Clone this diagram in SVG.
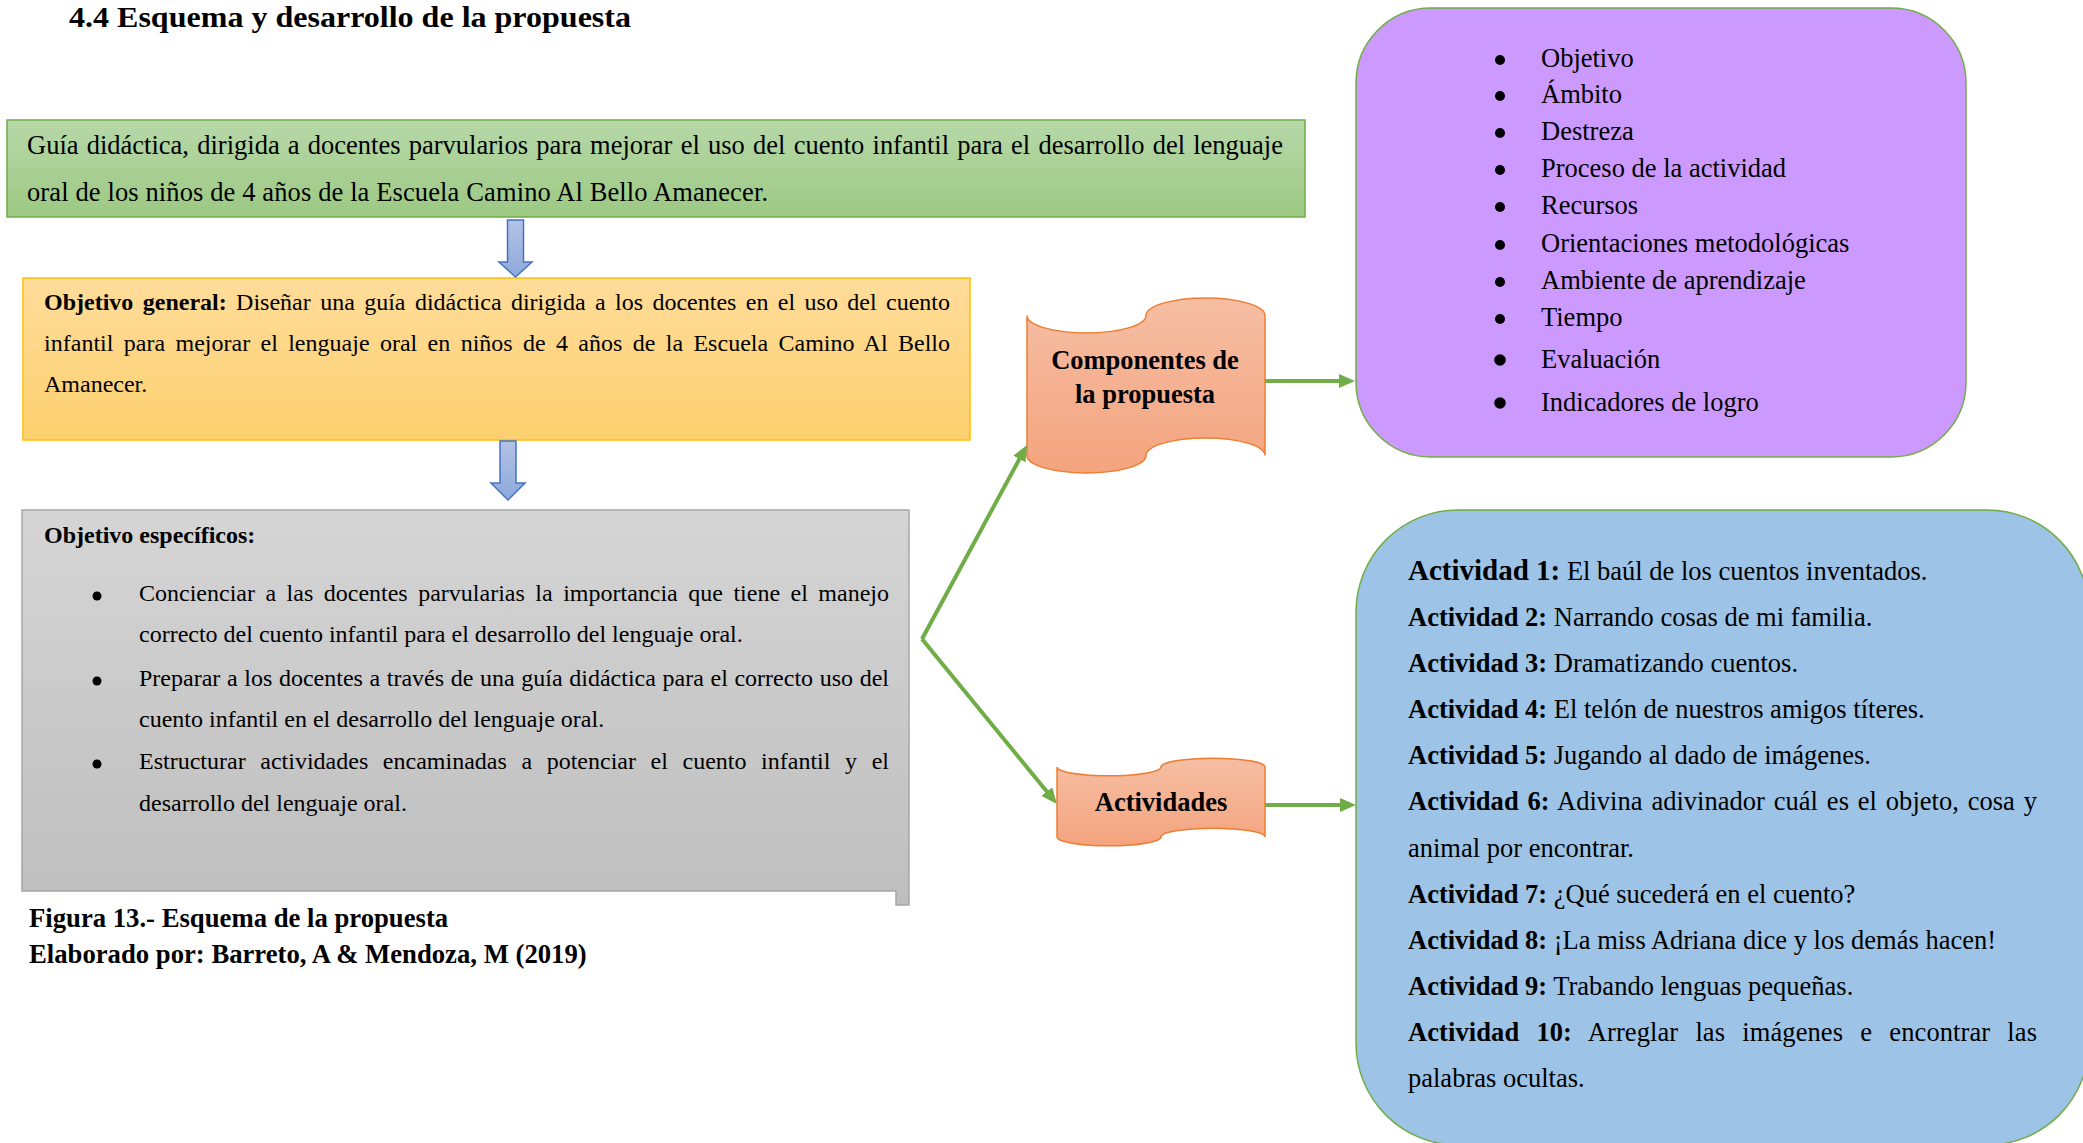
<svg xmlns="http://www.w3.org/2000/svg" width="2083" height="1143" viewBox="0 0 2083 1143">
<defs>
  <linearGradient id="gGreen" x1="0" y1="0" x2="0" y2="1"><stop offset="0" stop-color="#b7d8a9"/><stop offset="1" stop-color="#9cc882"/></linearGradient>
  <linearGradient id="gOrange" x1="0" y1="0" x2="0" y2="1"><stop offset="0" stop-color="#ffdc9a"/><stop offset="1" stop-color="#fdd06e"/></linearGradient>
  <linearGradient id="gGray" x1="0" y1="0" x2="0" y2="1"><stop offset="0" stop-color="#d5d5d5"/><stop offset="1" stop-color="#bebebe"/></linearGradient>
  <linearGradient id="gSalmon" x1="0" y1="0" x2="0" y2="1"><stop offset="0" stop-color="#f6bea4"/><stop offset="1" stop-color="#f4a47e"/></linearGradient>
  <linearGradient id="gArrow" x1="0" y1="0" x2="0" y2="1"><stop offset="0" stop-color="#b3c2e6"/><stop offset="1" stop-color="#8ea9db"/></linearGradient>
  <marker id="ah" markerUnits="userSpaceOnUse" markerWidth="16" markerHeight="14" viewBox="0 0 16 14" refX="8" refY="7" orient="auto">
    <path d="M0,0 L16,7 L0,14 Z" fill="#70ad47"/>
  </marker>
</defs>
<style>
  .t { font-family: "Liberation Serif", "Times New Roman", serif; fill: #000; }
  .b { font-weight: bold; }
  .s24 { font-size: 24px; }
  .s26 { font-size: 26.5px; }
  .bul { fill: #000; }
  .link { stroke: #70ad47; stroke-width: 4; fill: none; marker-end: url(#ah); }
  .blockarrow { fill: url(#gArrow); stroke: #4472c4; stroke-width: 1.5; }
  .scroll { fill: url(#gSalmon); stroke: #ed7d31; stroke-width: 1.5; }
</style>

<text id="title" class="t b" x="69" y="27" font-size="30" textLength="562" lengthAdjust="spacingAndGlyphs">4.4 Esquema y desarrollo de la propuesta</text>

<g id="guia">
  <rect x="7" y="120" width="1298" height="97" fill="url(#gGreen)" stroke="#70ad47" stroke-width="1.5"/>
  <text class="t s26" x="27" y="154" word-spacing="1.6" textLength="1256">Guía didáctica, dirigida a docentes parvularios para mejorar el uso del cuento infantil para el desarrollo del lenguaje</text>
  <text class="t s26" x="27" y="201" textLength="741">oral de los niños de 4 años de la Escuela Camino Al Bello Amanecer.</text>
</g>

<g id="objetivo-general">
  <rect x="23" y="278" width="947" height="162" fill="url(#gOrange)" stroke="#ffc000" stroke-width="1.5"/>
  <text class="t s24" x="44" y="310" word-spacing="3.4" textLength="906"><tspan class="b">Objetivo general:</tspan> Diseñar una guía didáctica dirigida a los docentes en el uso del cuento</text>
  <text class="t s24" x="44" y="351" word-spacing="4.3" textLength="906">infantil para mejorar el lenguaje oral en niños de 4 años de la Escuela Camino Al Bello</text>
  <text class="t s24" x="44" y="392">Amanecer.</text>
</g>

<g id="objetivos-especificos">
  <path d="M22,510 H909 V905 H896 V891 H22 Z" fill="url(#gGray)" stroke="#a6a6a6" stroke-width="1.5"/>
  <text class="t s24 b" x="44" y="543">Objetivo específicos:</text>
  <circle class="bul" cx="97" cy="596" r="4.5"/>
  <text class="t s24" x="139" y="601" word-spacing="4.5" textLength="750">Concienciar a las docentes parvularias la importancia que tiene el manejo</text>
  <text class="t s24" x="139" y="642">correcto del cuento infantil para el desarrollo del lenguaje oral.</text>
  <circle class="bul" cx="97" cy="681" r="4.5"/>
  <text class="t s24" x="139" y="686" word-spacing="0.6" textLength="750">Preparar a los docentes a través de una guía didáctica para el correcto uso del</text>
  <text class="t s24" x="139" y="727">cuento infantil en el desarrollo del lenguaje oral.</text>
  <circle class="bul" cx="97" cy="764" r="4.5"/>
  <text class="t s24" x="139" y="769" word-spacing="8.6" textLength="750">Estructurar actividades encaminadas a potenciar el cuento infantil y el</text>
  <text class="t s24" x="139" y="811">desarrollo del lenguaje oral.</text>
</g>

<text class="t b" x="29" y="927" font-size="26.7">Figura 13.- Esquema de la propuesta</text>
<text class="t b" x="29" y="963" font-size="26.7">Elaborado por: Barreto, A &amp; Mendoza, M (2019)</text>

<g id="componentes">
  <path class="scroll" d="M1027,315.5 A59.5,17.5 0 0 0 1146,315.5 A59.5,17.5 0 0 1 1265,315.5 L1265,455.5 A59.5,17.5 0 0 0 1146,455.5 A59.5,17.5 0 0 1 1027,455.5 Z"/>
  <text class="t s26 b" x="1145" y="369" text-anchor="middle">Componentes de</text>
  <text class="t s26 b" x="1145" y="403" text-anchor="middle">la propuesta</text>
</g>

<g id="actividades">
  <path class="scroll" d="M1057,767 A52,8.8 0 0 0 1161,767 A52,8.8 0 0 1 1265,767 L1265,837 A52,8.8 0 0 0 1161,837 A52,8.8 0 0 1 1057,837 Z"/>
  <text class="t s26 b" x="1161" y="811" text-anchor="middle">Actividades</text>
</g>

<g id="lista-componentes">
  <rect x="1356" y="8" width="610" height="449" rx="75" ry="75" fill="#cc99ff" stroke="#70ad47" stroke-width="1.5"/>
  <g class="bul">
    <circle cx="1500" cy="60" r="5"/>
    <circle cx="1500" cy="96" r="5"/>
    <circle cx="1500" cy="133" r="5"/>
    <circle cx="1500" cy="170" r="5"/>
    <circle cx="1500" cy="207" r="5"/>
    <circle cx="1500" cy="245" r="5"/>
    <circle cx="1500" cy="282" r="5"/>
    <circle cx="1500" cy="319" r="5"/>
    <circle cx="1500" cy="360" r="5.8"/>
    <circle cx="1500" cy="403" r="5.8"/>
  </g>
  <g class="t s26">
    <text x="1541" y="67">Objetivo</text>
    <text x="1541" y="103">Ámbito</text>
    <text x="1541" y="140">Destreza</text>
    <text x="1541" y="177">Proceso de la actividad</text>
    <text x="1541" y="214">Recursos</text>
    <text x="1541" y="252">Orientaciones metodológicas</text>
    <text x="1541" y="289">Ambiente de aprendizaje</text>
    <text x="1541" y="326">Tiempo</text>
    <text x="1541" y="368">Evaluación</text>
    <text x="1541" y="411">Indicadores de logro</text>
  </g>
</g>

<g id="lista-actividades">
  <rect x="1356" y="510" width="733" height="635" rx="102" ry="102" fill="#9dc3e6" stroke="#70ad47" stroke-width="1.5"/>
  <g class="t s26">
    <text x="1408" y="580"><tspan class="b" font-size="29">Actividad 1:</tspan> El baúl de los cuentos inventados.</text>
    <text x="1408" y="626"><tspan class="b">Actividad 2:</tspan> Narrando cosas de mi familia.</text>
    <text x="1408" y="672"><tspan class="b">Actividad 3:</tspan> Dramatizando cuentos.</text>
    <text x="1408" y="718"><tspan class="b">Actividad 4:</tspan> El telón de nuestros amigos títeres.</text>
    <text x="1408" y="764"><tspan class="b">Actividad 5:</tspan> Jugando al dado de imágenes.</text>
    <text x="1408" y="810" word-spacing="2.2" textLength="629"><tspan class="b">Actividad 6:</tspan> Adivina adivinador cuál es el objeto, cosa y</text>
    <text x="1408" y="857">animal por encontrar.</text>
    <text x="1408" y="903"><tspan class="b">Actividad 7:</tspan> ¿Qué sucederá en el cuento?</text>
    <text x="1408" y="949"><tspan class="b">Actividad 8:</tspan> ¡La miss Adriana dice y los demás hacen!</text>
    <text x="1408" y="995"><tspan class="b">Actividad 9:</tspan> Trabando lenguas pequeñas.</text>
    <text x="1408" y="1041" word-spacing="10.5" textLength="629"><tspan class="b">Actividad 10:</tspan> Arreglar las imágenes e encontrar las</text>
    <text x="1408" y="1087">palabras ocultas.</text>
  </g>
</g>

<g id="connectors">
  <path class="blockarrow" d="M507.5,220 H523.5 V262 H532 L515.5,277 L499,262 H507.5 Z"/>
  <path class="blockarrow" d="M500,441 H516 V483 H525 L508,500 L491,483 H500 Z"/>
  <line class="link" x1="922" y1="639" x2="1023.2" y2="452"/>
  <line class="link" x1="922" y1="639" x2="1051.9" y2="797.8"/>
  <line class="link" x1="1265" y1="381" x2="1347" y2="381"/>
  <line class="link" x1="1265" y1="805" x2="1348" y2="805"/>
</g>
</svg>
